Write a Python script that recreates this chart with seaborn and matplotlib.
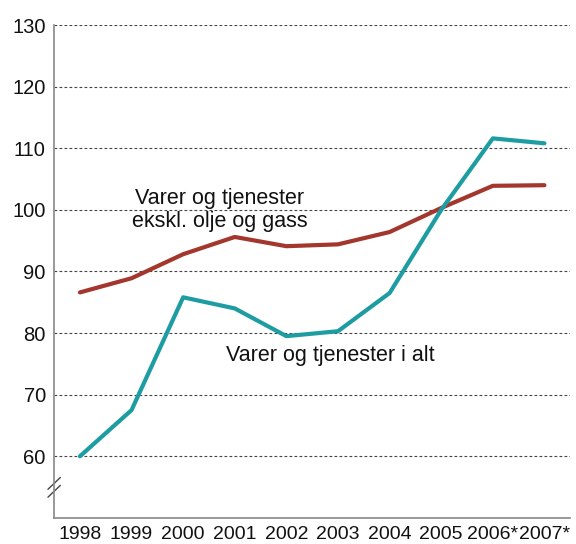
import matplotlib
matplotlib.use("Agg")
import matplotlib.pyplot as plt
import seaborn as sns
import pandas as pd

years = ["1998", "1999", "2000", "2001", "2002", "2003", "2004", "2005", "2006*", "2007*"]
total = [60.0, 67.5, 85.8, 84.0, 79.5, 80.3, 86.5, 100.0, 111.6, 110.8]
excl_oil = [86.6, 88.9, 92.8, 95.6, 94.1, 94.4, 96.4, 100.3, 103.9, 104.0]
yticks = [60, 70, 80, 90, 100, 110, 120, 130]

sns.set_theme(style="white")
plt.rcParams['font.family'] = ['Liberation Sans', 'DejaVu Sans']

df = pd.DataFrame({"pos": list(range(len(years))), "total": total, "excl": excl_oil})

fig = plt.figure(figsize=(5.76, 5.44), dpi=100)
ax = fig.add_axes([0.094, 0.048, 0.896, 0.906])

sns.lineplot(data=df, x="pos", y="excl", ax=ax, color="#a3362d", linewidth=3)
sns.lineplot(data=df, x="pos", y="total", ax=ax, color="#1d9ca2", linewidth=3)

ax.set_xlim(-0.5, 9.5)
ax.set_ylim(50, 130)
ax.set_yticks(yticks)
ax.set_yticklabels([str(v) for v in yticks], fontsize=14.5, color="#111111")
ax.set_xticks(range(len(years)))
ax.set_xticklabels(years, fontsize=14, color="#111111")
ax.set_xlabel("")
ax.set_ylabel("")

ax.grid(False)
for v in yticks:
    ax.axhline(v, color="#444444", linestyle=(0, (2.5, 2)), linewidth=0.8, zorder=0)

for s in ["top", "right"]:
    ax.spines[s].set_visible(False)
for s in ["left", "bottom"]:
    ax.spines[s].set_color("#888888")
    ax.spines[s].set_linewidth(1.2)

ax.tick_params(axis="x", direction="in", length=9, width=1, color="#888888", pad=6)
ax.tick_params(axis="y", length=0, pad=6)

# axis break marker
for dy in (-0.008, 0.008):
    ax.plot([-0.012, 0.012], [0.062 + dy - 0.012, 0.062 + dy + 0.012],
            transform=ax.transAxes, color="#444444", linewidth=1, clip_on=False)

ax.text(2.71, 100.0, "Varer og tjenester\nekskl. olje og gass", fontsize=15.5,
        ha="center", va="center", linespacing=1.1, color="#111111")
ax.text(4.86, 76.4, "Varer og tjenester i alt", fontsize=15.5, ha="center", va="center",
        color="#111111")

fig.savefig("out.png", dpi=100)
